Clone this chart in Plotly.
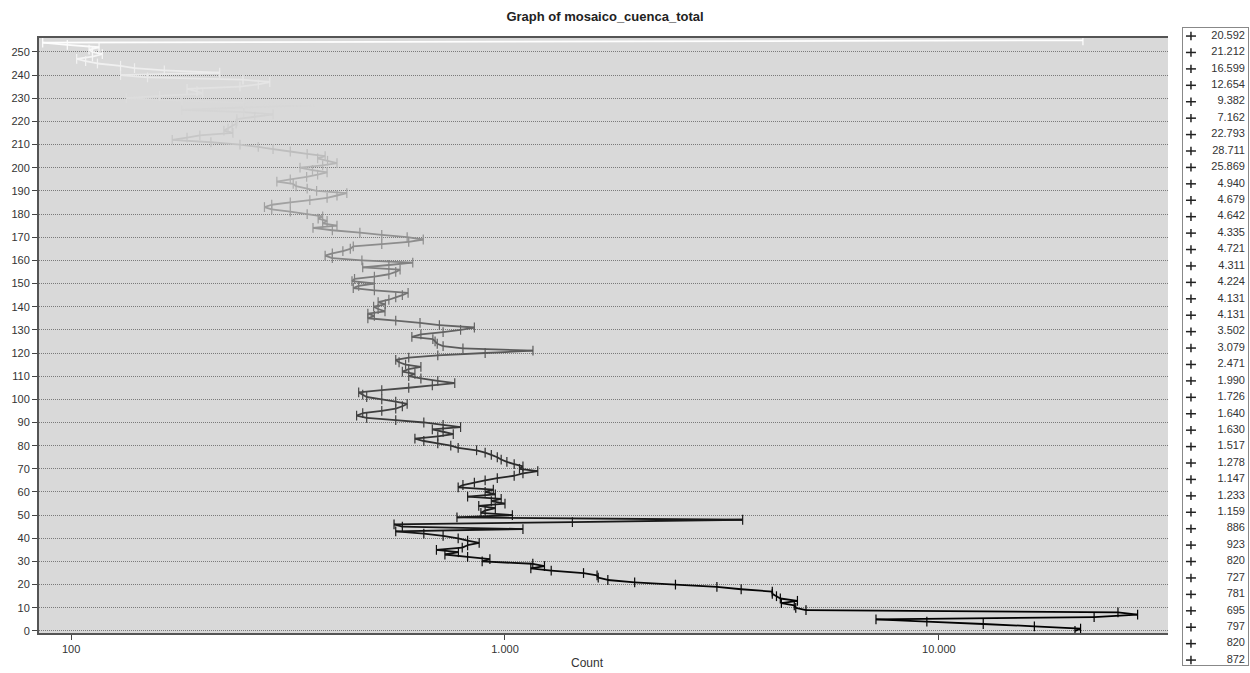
import plotly.graph_objects as go

# Pixel counts per grey value (0-255); 0-38 come straight from the legend
counts_0_38 = [20592, 21212, 16599, 12654, 9382, 7162, 22793, 28711, 25869, 4940,
               4679, 4642, 4335, 4721, 4311, 4224, 4131, 4131, 3502, 3079,
               2471, 1990, 1726, 1640, 1630, 1517, 1278, 1147, 1233, 1159,
               886, 923, 820, 727, 781, 695, 797, 820, 872]
counts_39_99 = [820, 780, 720, 650, 560, 1100, 580, 555, 1430, 3530,
                775, 1040, 880, 900, 950, 870, 1000, 930, 980, 820,
                950, 900, 940, 780, 800, 850, 900, 960, 1050, 1100,
                1190, 1080, 1100, 1050, 1010, 980, 960, 930, 900, 860,
                780, 750, 700, 650, 620, 700, 760, 720, 680, 790,
                720, 650, 560, 480, 455, 470, 520, 560, 580, 595, 560]
counts_100_159 = [520, 480, 470, 460, 520, 600, 680, 766, 700, 640,
                  600, 620, 580, 600, 640, 590, 570, 560, 600, 700,
                  900, 1160, 800, 720, 698, 690, 682, 610, 640, 720,
                  790, 850, 706, 637, 560, 483, 500, 483, 529, 510,
                  498, 530, 510, 540, 560, 580, 598, 500, 447, 460,
                  500, 444, 450, 500, 540, 560, 573, 470, 540, 613]
counts_160_255 = [468, 400, 385, 400, 423, 440, 447, 520, 600, 648,
                  595, 520, 463, 400, 361, 410, 380, 389, 371, 380,
                  350, 320, 290, 279, 290, 320, 355, 389, 410, 432,
                  368, 350, 330, 325, 298, 320, 349, 370, 389, 360,
                  337, 380, 410, 390, 370, 385, 350, 320, 292, 270,
                  245, 210, 171, 185, 198, 236, 225, 230, 235, 240,
                  241, 241, 265, 292, 250, 180, 250, 368, 250, 180,
                  134, 160, 201, 195, 185, 245, 270, 287, 249, 150,
                  130, 220, 164, 140, 130, 115, 108, 103, 112, 118,
                  112, 110, 116, 98, 86, 21480]

counts = counts_0_38 + counts_39_99 + counts_100_159 + counts_160_255
values = list(range(len(counts)))
legend_counts = counts_0_38

y_ticks = list(range(0, 251, 10))
x_ticks = [100, 1000, 10000]
x_tick_text = ["100", "1.000", "10.000"]


def fmt(n):
    # thousands separator as in the original ("20.592")
    return f"{n:,}".replace(",", ".")


def grey(v):
    # grey ramp for the value, a bit darker in the middle like the original
    g = round(255 * (v / 255) ** 1.4)
    return f"rgb({g},{g},{g})"


fig = go.Figure()

# one segment per grey value, coloured by that value
for v in values[:-1]:
    fig.add_trace(go.Scatter(
        x=counts[v:v + 2], y=values[v:v + 2], mode="lines",
        line=dict(color=grey(v), width=1.8),
        hoverinfo="skip", showlegend=False))

fig.add_trace(go.Scatter(
    x=counts, y=values, mode="markers",
    marker=dict(symbol="line-ns", size=7,
                line=dict(color=[grey(v) for v in values], width=1.2)),
    showlegend=False))

# hand-made legend (plotly's own legend can't pack 39 rows into this height)
rows = list(range(len(legend_counts)))
lx, ly = [], []
for r in rows:
    lx += [3, 13, None]
    ly += [r, r, None]
fig.add_trace(go.Scatter(x=lx, y=ly, xaxis="x2", yaxis="y2", mode="lines",
                         line=dict(color="#222222", width=1.5),
                         hoverinfo="skip", showlegend=False))
fig.add_trace(go.Scatter(x=[8] * len(rows), y=rows, xaxis="x2", yaxis="y2",
                         mode="markers",
                         marker=dict(symbol="line-ns", size=6,
                                     line=dict(color="#222222", width=1.5)),
                         hoverinfo="skip", showlegend=False))
fig.add_trace(go.Scatter(x=[62] * len(rows), y=rows, xaxis="x2", yaxis="y2",
                         mode="text", text=[fmt(c) for c in legend_counts],
                         textposition="middle left",
                         textfont=dict(family="Liberation Sans, Arial", size=11, color="#333333"),
                         hoverinfo="skip", showlegend=False))

fig.update_layout(
    width=1250, height=673,
    margin=dict(l=39, r=2, t=28, b=8),
    paper_bgcolor="white",
    plot_bgcolor="white",
    font=dict(family="Liberation Sans, Arial", size=11, color="#333333"),
    title=dict(text="<b>Graph of mosaico_cuenca_total</b>", x=0.484, xanchor="center",
               y=0.975, yanchor="middle", yref="container",
               font=dict(size=13, color="#222222")),
    xaxis=dict(
        type="log", domain=[0, 0.9338], range=[1.926, 4.528],
        tickvals=x_ticks, ticktext=x_tick_text, ticks="outside", ticklen=5,
        tickcolor="#444444", showgrid=False, zeroline=False,
        showline=True, linecolor="#555555", linewidth=2, mirror=True,
        automargin=False,
    ),
    yaxis=dict(
        domain=[0.0502, 0.9843], range=[-0.9, 256],
        tickvals=y_ticks, ticks="outside", ticklen=5, tickcolor="#444444",
        showgrid=True, gridcolor="#7a7a7a", griddash="1px,1px", gridwidth=1,
        zeroline=False, showline=True, linecolor="#555555", linewidth=2,
        automargin=False,
    ),
    xaxis2=dict(domain=[0.9462, 1], range=[0, 65], anchor="y2",
                showgrid=False, zeroline=False, showticklabels=False,
                showline=True, linecolor="#888888", linewidth=1, mirror=True),
    yaxis2=dict(domain=[0, 1], range=[38.3, -0.49], anchor="x2",
                showgrid=False, zeroline=False, showticklabels=False,
                showline=True, linecolor="#888888", linewidth=1, mirror=True),
    # grey background only behind the main chart, the legend stays white
    shapes=[dict(type="rect", xref="x domain", yref="y domain", x0=0, x1=1, y0=0, y1=1,
                 fillcolor="#d9d9d9", line=dict(width=0), layer="below")],
    annotations=[dict(text="Count", xref="paper", yref="paper", x=0.4533, y=0.003,
                      xanchor="center", yanchor="middle", showarrow=False,
                      font=dict(size=12, color="#333333"))],
)

# drop the browser's default 8px body margin so the figure sits at the page corner
fig.write_html("out.html", config={"displayModeBar": False},
               post_script="document.body.style.margin='0';")
